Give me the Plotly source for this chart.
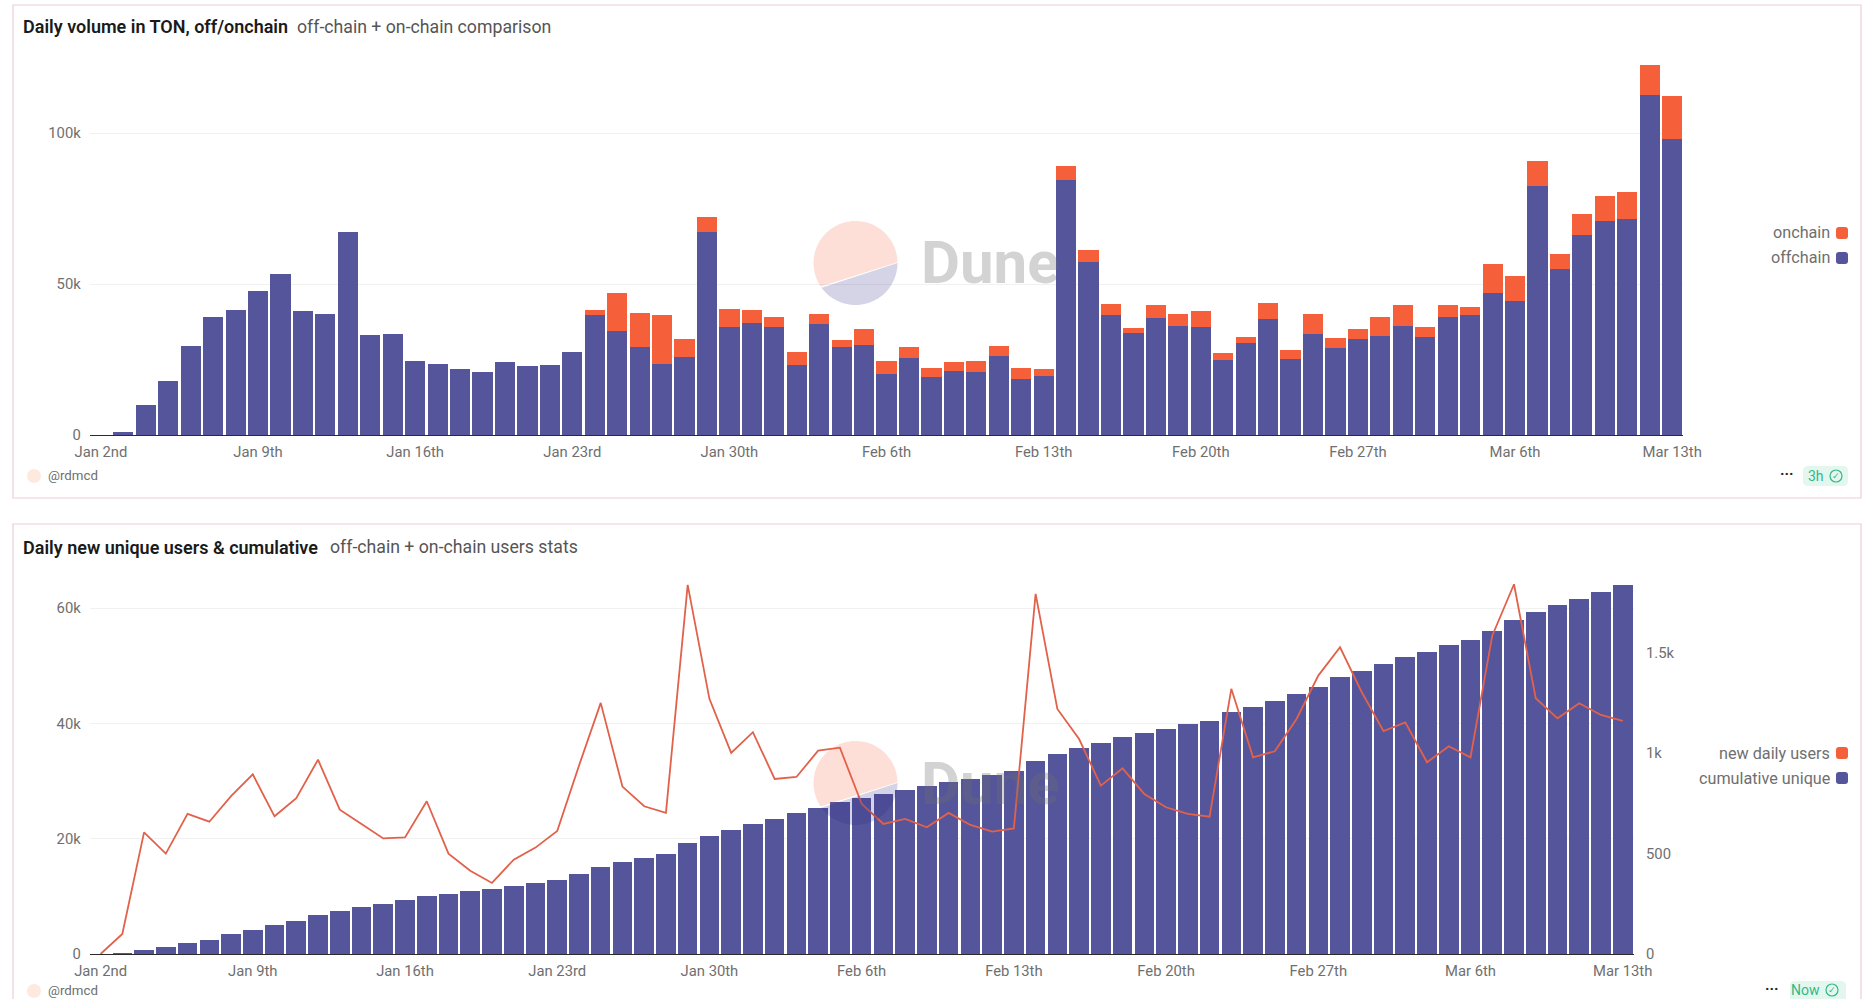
import math
import pandas as pd
import plotly.graph_objects as go

FONT = "Roboto"
W, H = 1873, 999

# one bar per day, Jan 2nd to Mar 13th
days = pd.date_range("2023-01-02", "2023-03-13").strftime("%Y-%m-%d").tolist()
tick_days = days[::7]
tick_labels = ["Jan 2nd", "Jan 9th", "Jan 16th", "Jan 23rd", "Jan 30th", "Feb 6th",
               "Feb 13th", "Feb 20th", "Feb 27th", "Mar 6th", "Mar 13th"]

# Top chart, in TON
offchain = [0, 900, 9800, 17900, 29500, 39100, 41400, 47700, 53400, 41200, 40000, 67200,
            33100, 33300, 24400, 23600, 21900, 20700, 24200, 22800, 23100, 27600,
            39600, 34500, 29300, 23500, 25700, 67200, 35900, 37200, 35800, 23100,
            36800, 29100, 29800, 20200, 25600, 19200, 21100, 20700, 26200, 18500,
            19700, 84500, 57300, 39600, 33700, 38600, 36000, 35600, 24900, 30500,
            38300, 25200, 33600, 28800, 31700, 32900, 36000, 32300, 39000, 39700,
            47000, 44300, 82500, 55000, 66200, 70700, 71500, 112500, 98000]
onchain = [0, 0, 0, 0, 0, 0, 0, 0, 0, 0, 0, 0,
           0, 0, 0, 0, 0, 0, 0, 0, 0, 0,
           1700, 12600, 11000, 16300, 6200, 5100, 5800, 4200, 3300, 4500,
           3200, 2500, 5400, 4300, 3400, 3000, 3100, 3700, 3400, 3700,
           2200, 4700, 4000, 3800, 1800, 4400, 4200, 5600, 2200, 1800,
           5300, 3100, 6400, 3400, 3500, 6200, 6900, 3500, 4200, 2700,
           9700, 8300, 8300, 5000, 7100, 8400, 9100, 9900, 14400]

# Bottom chart
cumulative_unique = [0, 50, 700, 1200, 1900, 2500, 3400, 4200, 5000, 5700, 6700, 7500,
                     8100, 8700, 9300, 10000, 10500, 10900, 11300, 11800, 12300, 12900,
                     13800, 15100, 15900, 16700, 17400, 19200, 20500, 21500, 22600, 23400,
                     24400, 25300, 26400, 27100, 27800, 28500, 29100, 29800, 30400, 31100,
                     31700, 33500, 34700, 35800, 36600, 37600, 38400, 39100, 39900, 40500,
                     42000, 42900, 43900, 45100, 46400, 48000, 49200, 50400, 51600, 52500,
                     53600, 54500, 56100, 58000, 59300, 60500, 61700, 62900, 64100]
new_daily_users = [0, 100, 606, 500, 698, 659, 786, 895, 686, 776, 968, 719,
                   648, 576, 581, 761, 500, 415, 354, 470, 530, 613,
                   938, 1251, 834, 736, 703, 1839, 1271, 1002, 1105, 872,
                   882, 1013, 1028, 748, 648, 673, 631, 703, 643, 610,
                   626, 1794, 1221, 1071, 839, 925, 797, 731, 698, 684,
                   1321, 980, 1010, 1171, 1387, 1528, 1304, 1110, 1154, 955,
                   1035, 980, 1586, 1842, 1274, 1174, 1249, 1191, 1161]

PURPLE = "#55559b"
ORANGE = "#f5603a"
LINE = "#e2614a"
GREY = "#6f6f6f"
BORDER = "#eccdd3"
GRID = "#f1f1f1"
TICK = dict(family=FONT, size=14.8, color=GREY)


def px(x):
    return x / W


def py(y):
    return 1 - y / H


def x_axis(left, right, base):
    return dict(domain=[px(left), px(right)], anchor=base, type="date",
                range=["2023-01-01 12:00", "2023-03-13 12:00"],
                tickvals=tick_days, ticktext=tick_labels, tickangle=0,
                showgrid=False, zeroline=False, showline=True, linecolor="#2b2b2b", linewidth=1,
                ticks="outside", ticklen=3.5, tickcolor="rgba(0,0,0,0)", tickfont=TICK)


fig = go.Figure()

fig.add_trace(go.Bar(x=days, y=offchain, name="offchain", marker_color=PURPLE,
                     marker_line_width=0, xaxis="x", yaxis="y"))
fig.add_trace(go.Bar(x=days, y=onchain, name="onchain", marker_color=ORANGE,
                     marker_line_width=0, xaxis="x", yaxis="y"))
fig.add_trace(go.Bar(x=days, y=cumulative_unique, name="cumulative unique", marker_color=PURPLE,
                     marker_line_width=0, xaxis="x2", yaxis="y2"))
fig.add_trace(go.Scatter(x=days, y=new_daily_users, name="new daily users", mode="lines",
                         line=dict(color=LINE, width=1.8), xaxis="x2", yaxis="y3"))

fig.update_layout(
    width=W, height=H, autosize=False, showlegend=False,
    paper_bgcolor="white", plot_bgcolor="white",
    margin=dict(l=0, r=0, t=0, b=0, autoexpand=False),
    barmode="stack", bargap=0.1,
    xaxis=x_axis(89.7, 1683.4, "y"),
    xaxis2=x_axis(89.7, 1633.6, "y2"),
    yaxis=dict(domain=[py(435), py(40)], anchor="x", range=[0, 130794],
               tickvals=[0, 50000, 100000], ticktext=["0", "50k", "100k"],
               showgrid=True, gridcolor=GRID, zeroline=False,
               ticks="outside", ticklen=5, tickcolor="rgba(0,0,0,0)", tickfont=TICK),
    yaxis2=dict(domain=[py(954), py(569)], anchor="x2", range=[0, 66820],
                tickvals=[0, 20000, 40000, 60000], ticktext=["0", "20k", "40k", "60k"],
                showgrid=True, gridcolor=GRID, zeroline=False,
                ticks="outside", ticklen=5, tickcolor="rgba(0,0,0,0)", tickfont=TICK),
    yaxis3=dict(domain=[py(954), py(569)], anchor="x2", overlaying="y2", side="right",
                range=[0, 1918], tickvals=[0, 500, 1000, 1500], ticktext=["0", "500", "1k", "1.5k"],
                showgrid=False, zeroline=False,
                ticks="outside", ticklen=8.5, tickcolor="rgba(0,0,0,0)", tickfont=TICK),
)


def label(x, y, text, anchor="left", size=13.5, color=GREY, weight=400):
    fig.add_annotation(xref="paper", yref="paper", x=px(x), y=py(y), text=text, showarrow=False,
                       xanchor=anchor, yanchor="middle", borderpad=0,
                       font=dict(family=FONT, size=size, color=color, weight=weight))


def box(x0, y0, x1, y1, fill="rgba(0,0,0,0)", line=None, layer="below", kind="rect"):
    fig.add_shape(type=kind, xref="paper", yref="paper", layer=layer,
                  x0=px(x0), x1=px(x1), y0=py(y0), y1=py(y1), fillcolor=fill,
                  line=dict(color=line or "rgba(0,0,0,0)", width=1.2 if line else 0))


def rounded(x0, y0, x1, y1, r, fill, layer="above"):
    fig.add_shape(type="path", xref="paper", yref="paper", layer=layer, fillcolor=fill, line_width=0,
                  path=f"M {px(x0 + r)} {py(y0)} L {px(x1 - r)} {py(y0)} Q {px(x1)} {py(y0)} {px(x1)} {py(y0 + r)} "
                       f"L {px(x1)} {py(y1 - r)} Q {px(x1)} {py(y1)} {px(x1 - r)} {py(y1)} "
                       f"L {px(x0 + r)} {py(y1)} Q {px(x0)} {py(y1)} {px(x0)} {py(y1 - r)} "
                       f"L {px(x0)} {py(y0 + r)} Q {px(x0)} {py(y0)} {px(x0 + r)} {py(y0)} Z")


def pie_part(cx, cy, r, start, end, fill):
    pts = [(cx + r * math.cos(math.radians(a)), cy + r * math.sin(math.radians(a)))
           for a in range(start, end + 1, 3)]
    path = "M " + " L ".join(f"{px(x)} {py(y)}" for x, y in pts) + " Z"
    fig.add_shape(type="path", xref="paper", yref="paper", layer="above",
                  fillcolor=fill, line_width=0, path=path)


def watermark(y):
    # pale Dune logo and word, laid over the marks
    pie_part(855.5, y, 42, 146, 359, "rgba(245,96,58,0.2)")
    pie_part(855.5, y, 42, 0, 146, "rgba(40,40,130,0.2)")
    label(920, y, "<b>Dune</b>", size=60, color="rgba(110,110,110,0.3)")


# cards
box(13, 5, 1861, 498, line=BORDER)
box(13, 524, 1861, 1020, line=BORDER)

label(22, 27, "Daily volume in TON, off/onchain", size=18, color="#1a1a1a", weight=600)
label(296, 27, "off-chain + on-chain comparison", size=17.7, color="#555555")
label(22, 547, "Daily new unique users &amp; cumulative", size=18, color="#1a1a1a", weight=600)
label(329, 547, "off-chain + on-chain users stats", size=17.7, color="#555555")

label(1831, 233, "onchain", anchor="right", size=16.2)
label(1831, 258, "offchain", anchor="right", size=16.2)
label(1831, 753, "new daily users", anchor="right", size=16.2)
label(1831, 778, "cumulative unique", anchor="right", size=16.2)
rounded(1836, 227, 1848, 239, 3, ORANGE)
rounded(1836, 252, 1848, 264, 3, PURPLE)
rounded(1836, 747, 1848, 759, 3, ORANGE)
rounded(1836, 772, 1848, 784, 3, PURPLE)

# author and status footers
box(27, 469, 41, 483, fill="#fde9de", kind="circle")
label(47, 476, "@rdmcd", size=13.3)
box(27, 984, 41, 998, fill="#fde9de", kind="circle")
label(47, 990, "@rdmcd", size=13.3)

label(1787, 474, "<b>···</b>", anchor="center", size=15, color="#222222")
rounded(1803, 466, 1848, 486, 5, "#e4f7ee", layer="below")
label(1816, 476, "3h", anchor="center", size=14, color="#2fb98a")
box(1830, 470, 1842, 482, line="#2fb98a", kind="circle")
label(1836, 476, "✓", anchor="center", size=9, color="#2fb98a")

label(1772, 989, "<b>···</b>", anchor="center", size=15, color="#222222")
rounded(1790, 981, 1846, 1005, 5, "#e4f7ee", layer="below")
label(1805, 990, "Now", anchor="center", size=14, color="#2fb98a")
box(1826, 984, 1838, 996, line="#2fb98a", kind="circle")
label(1832, 990, "✓", anchor="center", size=9, color="#2fb98a")

watermark(263)
watermark(783)

fig.write_html("out.html", config=dict(displayModeBar=False),
               post_script="document.body.style.margin='0';document.body.style.overflow='hidden';")
